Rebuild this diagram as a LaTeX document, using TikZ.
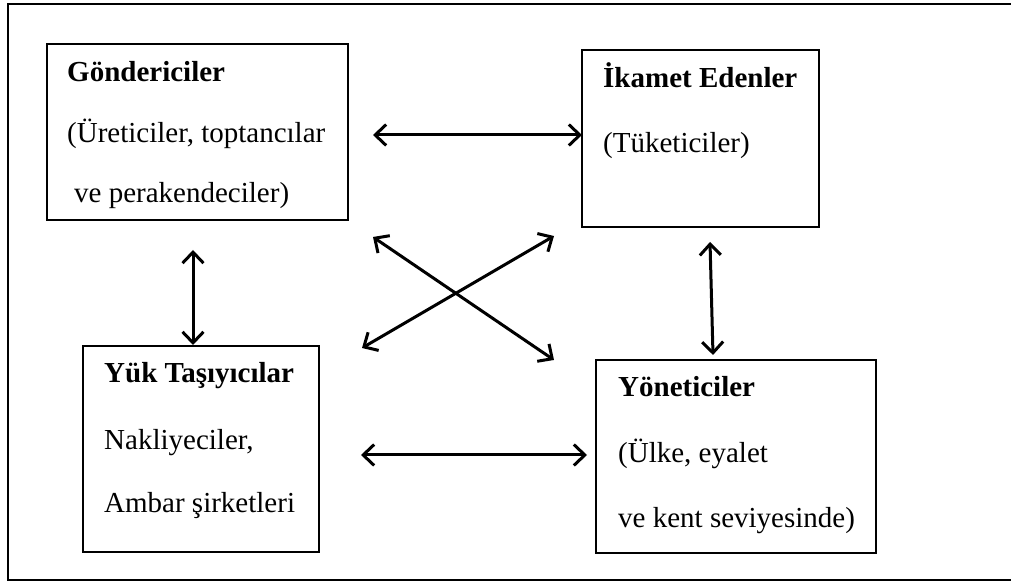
\documentclass[tikz,border=0pt]{standalone}
\usepackage{fontspec}
\setmainfont{Liberation Serif}
\usetikzlibrary{arrows.meta}
\begin{document}
\begin{tikzpicture}[x=1pt,y=1pt,
  box/.style={draw, line width=1.3pt, minimum width=#1, inner sep=0pt},
  txt/.style={anchor=base west, inner sep=0pt, font=\fontsize{29}{35}\selectfont},
  hdr/.style={txt, font=\fontsize{29}{35}\selectfont\bfseries},
  arr/.style={line width=3pt, {Straight Barb[length=11pt,width=21pt]}-{Straight Barb[length=11pt,width=21pt]}}]
\useasboundingbox (0,0) rectangle (1011,583);
% outer frame
\draw[line width=2pt] (1015,579) -- (8,579) -- (8,3) -- (1015,3);
% boxes
\node[box=301pt, minimum height=176pt] (g) at (197.5,451) {};
\node[box=237pt, minimum height=177pt] (i) at (700.5,444.5) {};
\node[box=236pt, minimum height=206pt] (y) at (201,134) {};
\node[box=280pt, minimum height=193pt] (m) at (736,126.5) {};
% texts
\node[hdr] (g1) at (67,501) {Göndericiler};
\node[txt] (g2) at (67,440) {(Üreticiler, toptancılar};
\node[txt] (g3) at (74,380) {ve perakendeciler)};
\node[hdr] (i1) at (603,495) {İkamet Edenler};
\node[txt] (i2) at (603,430) {(Tüketiciler)};
\node[hdr] (y1) at (104,200) {Yük Taşıyıcılar};
\node[txt] (y2) at (104,133) {Nakliyeciler,};
\node[txt] (y3) at (104,70) {Ambar şirketleri};
\node[hdr] (m1) at (618,186) {Yöneticiler};
\node[txt] (m2) at (618,120) {(Ülke, eyalet};
\node[txt] (m3) at (618,55) {ve kent seviyesinde)};
% connector end points
\coordinate (gi1) at (373,448);
\coordinate (gi2) at (582,448);
\coordinate (gy1) at (193,333);
\coordinate (gy2) at (193,238);
\coordinate (im1) at (710,341);
\coordinate (im2) at (713,228);
\coordinate (gm1) at (373,346);
\coordinate (gm2) at (554,223);
\coordinate (iy1) at (554,347);
\coordinate (iy2) at (362,235);
\coordinate (ym1) at (361,128);
\coordinate (ym2) at (587,128);
% connectors
\draw[arr] (gi1) -- (gi2);
\draw[arr] (gy1) -- (gy2);
\draw[arr] (im1) -- (im2);
\draw[arr] (gm1) -- (gm2);
\draw[arr] (iy1) -- (iy2);
\draw[arr] (ym1) -- (ym2);
\end{tikzpicture}
\end{document}
